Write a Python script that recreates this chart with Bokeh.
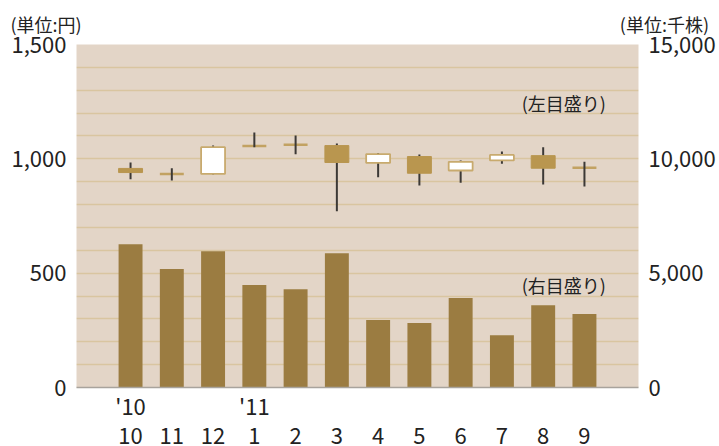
from bokeh.plotting import figure
from bokeh.models import (ColumnDataSource, Range1d, LinearAxis, FixedTicker,
                          NumeralTickFormatter, Label)
from bokeh.embed import file_html
from bokeh.resources import INLINE

# ---- data ----
months = ["10", "11", "12", "1", "2", "3", "4", "5", "6", "7", "8", "9"]
year_labels = {0: "'10", 3: "'11"}
open_ = [958, 934, 934, 1056, 1062, 1058, 982, 1010, 949, 993, 1014, 961]
close = [940, 934, 1051, 1056, 1062, 984, 1021, 937, 987, 1017, 959, 961]
high = [984, 959, 1058, 1115, 1102, 1067, 1026, 1019, 993, 1032, 1051, 987]
low = [911, 905, 931, 1051, 1020, 771, 919, 883, 895, 978, 888, 879]
volume = [6270, 5180, 5960, 4480, 4300, 5870, 2950, 2820, 3910, 2290, 3600, 3210]
price_ticks = [0, 500, 1000, 1500]
volume_ticks = [0, 5000, 10000, 15000]
unit_left = "(単位:円)"
unit_right = "(単位:千株)"

FONT = "Noto Sans CJK JP"
TXT = "#222222"
W = 0.58

xs = list(range(len(months)))

p = figure(width=719, height=446, output_backend="svg", toolbar_location=None,
           x_range=Range1d(-1.31, 11 + 1.31), y_range=Range1d(0, 1500),
           min_border_left=76, min_border_right=81, min_border_top=44,
           min_border_bottom=58, background_fill_color="#e3d5c7",
           border_fill_color="white", outline_line_color=None)
p.extra_y_ranges = {"vol": Range1d(0, 15000)}

# unit labels as a single title line (ideographic spaces keep the gap)
p.title.text = unit_left + "\u3000" * 29 + "\u00a0" * 4 + unit_right
p.title.align = "left"
p.title.offset = -66
p.title.standoff = 16
p.title.text_font = FONT
p.title.text_font_size = "18px"
p.title.text_font_style = "normal"
p.title.text_color = TXT

# grid
p.xgrid.visible = False
p.ygrid.ticker = FixedTicker(ticks=list(range(0, 1501, 100)))
p.ygrid.grid_line_color = "#d9c5a0"
p.ygrid.grid_line_width = 1.6

# volume bars
vsrc = ColumnDataSource(dict(x=xs, v=volume))
p.vbar(x="x", top="v", bottom=0, width=W, source=vsrc, y_range_name="vol",
       fill_color="#9b7c41", line_color=None)

# candles
up = [i for i in xs if close[i] > open_[i]]
dn = [i for i in xs if close[i] < open_[i]]
dj = [i for i in xs if close[i] == open_[i]]

djsrc = ColumnDataSource(dict(x0=[i - W / 2 for i in dj], x1=[i + W / 2 for i in dj],
                              y=[close[i] for i in dj]))
p.segment(x0="x0", x1="x1", y0="y", y1="y", source=djsrc,
          line_color="#c2a262", line_width=2.5)

wsrc = ColumnDataSource(dict(x=xs, h=high, l=low))
p.segment(x0="x", x1="x", y0="l", y1="h", source=wsrc,
          line_color="#3c3936", line_width=2)

usrc = ColumnDataSource(dict(x=up, t=[close[i] for i in up], b=[open_[i] for i in up]))
p.vbar(x="x", top="t", bottom="b", width=W, source=usrc,
       fill_color="white", line_color="#c8aa6e", line_width=1.8)
dsrc = ColumnDataSource(dict(x=dn, t=[open_[i] for i in dn], b=[close[i] for i in dn]))
p.vbar(x="x", top="t", bottom="b", width=W, source=dsrc,
       fill_color="#b9964f", line_color="#b9964f", line_width=1)

# axes
def style_axis(ax, standoff):
    ax.axis_line_color = None
    ax.major_tick_line_color = None
    ax.minor_tick_line_color = None
    ax.major_tick_out = 0
    ax.major_tick_in = 0
    ax.minor_tick_out = 0
    ax.minor_tick_in = 0
    ax.major_label_standoff = standoff
    ax.major_label_text_font = FONT
    ax.major_label_text_font_size = "22px"
    ax.major_label_text_color = TXT

p.yaxis.ticker = FixedTicker(ticks=price_ticks)
p.yaxis.formatter = NumeralTickFormatter(format="0,0")
style_axis(p.yaxis[0], 10)

ry = LinearAxis(y_range_name="vol", ticker=FixedTicker(ticks=volume_ticks),
                formatter=NumeralTickFormatter(format="0,0"))
style_axis(ry, 10)
p.add_layout(ry, "right")

# year row (closest to the plot) and month row below it
p.xaxis.ticker = FixedTicker(ticks=list(year_labels.keys()))
p.xaxis.major_label_overrides = year_labels
style_axis(p.xaxis[0], 1)
p.xaxis.axis_line_color = "#a8a39c"
p.xaxis.axis_line_width = 1.5

mx = LinearAxis(ticker=FixedTicker(ticks=xs),
                major_label_overrides={i: m for i, m in zip(xs, months)})
style_axis(mx, 4)
p.add_layout(mx, "below")

# scale notes
p.add_layout(Label(x=10.5, y=1245, text="(左目盛り)", text_align="center",
                   text_baseline="middle", text_font=FONT, text_font_size="18px",
                   text_color=TXT))
p.add_layout(Label(x=10.5, y=4480, y_range_name="vol", text="(右目盛り)",
                   text_align="center", text_baseline="middle", text_font=FONT,
                   text_font_size="18px", text_color=TXT))

open("out.html", "w").write(file_html(p, INLINE))
